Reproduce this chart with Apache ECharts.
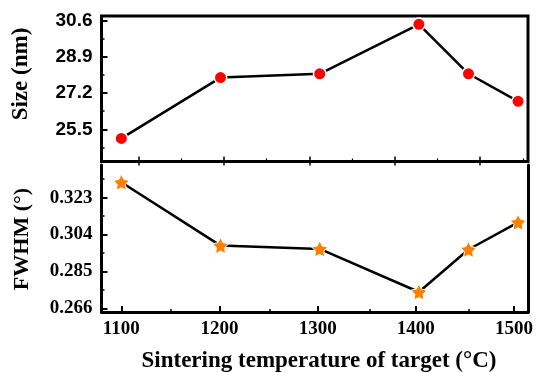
<!DOCTYPE html>
<html>
<head>
<meta charset="utf-8">
<script src="https://cdn.jsdelivr.net/npm/echarts@6/dist/echarts.min.js"></script>
<style>html,body{margin:0;padding:0;background:#fff}#c{width:536px;height:373px}</style>
</head>
<body>
<div id="c"></div>
<script>
// ---- data ----
const temps = [1100, 1200, 1300, 1400, 1450, 1500];
const sizeNm = [25.08, 27.92, 28.10, 30.41, 28.10, 26.81];
const fwhm = [0.3309, 0.2983, 0.2966, 0.2744, 0.2963, 0.3103];
// tick sets: [first, last, interval]
const xTicks = [1100, 1500, 100];
const xMinorTicks = [1150, 1450, 100];
const topXTicks = [1100, 1500, 100];
const topXMinorTicks = [1150, 1550, 100];
const sizeTicks = [25.5, 30.6, 1.7];
const sizeMinorTicks = [24.65, 29.75, 1.7];
const fwhmTicks = [0.266, 0.323, 0.019];
const fwhmMinorTicks = [0.2755, 0.3325, 0.019];
const xTitle = 'Sintering temperature of target (°C)';
const topTitle = 'Size (nm)';
const botTitle = 'FWHM (°)';

const serif = '"Liberation Serif", "Times New Roman", serif';
const sans = '"Liberation Sans", Arial, sans-serif';

function starPath(inner) {
  let d = '';
  for (let i = 0; i < 10; i++) {
    const r = i % 2 === 0 ? 50 : 50 * inner;
    const a = -Math.PI / 2 + i * Math.PI / 5;
    d += (i === 0 ? 'M' : 'L') + (50 + r * Math.cos(a)).toFixed(2) + ',' + (50 + r * Math.sin(a)).toFixed(2) + ' ';
  }
  return 'path://' + d + 'Z';
}

// panels
const P0 = {left: 101.5, top: 16, width: 426.5, height: 145.5};
const P1 = {left: 101.5, top: 165, width: 426.5, height: 147};
const X0 = [1080, 1510];          // data x range (both panels)
const XT = [1056.7, 1556.1];      // top panel tick scale
const Y0 = [24.0, 30.8];
const Y1 = [0.2641, 0.3398];

const grids = [], xAxes = [], yAxes = [];
const hidden = {type: 'value', show: false, splitLine: {show: false}};
function addGrid(g) { grids.push(g); return grids.length - 1; }

// data grids
const g0 = addGrid(Object.assign({show: true, borderColor: '#000', borderWidth: 3, backgroundColor: 'transparent'}, P0));
const g1 = addGrid(Object.assign({}, P1));
xAxes.push(Object.assign({}, hidden, {gridIndex: g0, min: X0[0], max: X0[1]}));
yAxes.push(Object.assign({}, hidden, {gridIndex: g0, min: Y0[0], max: Y0[1]}));
xAxes.push({type: 'value', gridIndex: g1, min: X0[0], max: X0[1], position: 'bottom', splitLine: {show: false},
  axisLine: {show: true, onZero: false, lineStyle: {color: '#000', width: 3}}, axisTick: {show: false}, axisLabel: {show: false}});
yAxes.push({type: 'value', gridIndex: g1, min: Y1[0], max: Y1[1], position: 'left', splitLine: {show: false},
  axisLine: {show: true, onZero: false, lineStyle: {color: '#000', width: 3}}, axisTick: {show: false}, axisLabel: {show: false}});
// right border of bottom panel
yAxes.push({type: 'value', gridIndex: g1, min: Y1[0], max: Y1[1], position: 'right', splitLine: {show: false},
  axisLine: {show: true, onZero: false, lineStyle: {color: '#000', width: 3}}, axisTick: {show: false}, axisLabel: {show: false}});

// tick grid for x direction
function xTickGrid(P, range, ticks, pos, len, w, label) {
  const s = P.width / (range[1] - range[0]);
  const gi = addGrid({left: P.left + (ticks[0] - range[0]) * s, width: (ticks[1] - ticks[0]) * s, top: P.top, height: P.height});
  xAxes.push({type: 'value', gridIndex: gi, min: ticks[0], max: ticks[1], interval: ticks[2], position: pos,
    splitLine: {show: false}, axisLine: {show: false},
    axisTick: {show: true, inside: true, length: len, lineStyle: {color: '#000', width: w}},
    axisLabel: label ? Object.assign({show: true}, label) : {show: false}});
  yAxes.push(Object.assign({}, hidden, {gridIndex: gi, min: 0, max: 1}));
}
function yTickGrid(P, range, ticks, len, w, label) {
  const s = P.height / (range[1] - range[0]);
  const gi = addGrid({left: P.left, width: P.width, top: P.top + (range[1] - ticks[1]) * s, height: (ticks[1] - ticks[0]) * s});
  yAxes.push({type: 'value', gridIndex: gi, min: ticks[0], max: ticks[1], interval: ticks[2], position: 'left',
    splitLine: {show: false}, axisLine: {show: false},
    axisTick: {show: true, inside: true, length: len, lineStyle: {color: '#000', width: w}},
    axisLabel: label ? Object.assign({show: true}, label) : {show: false}});
  xAxes.push(Object.assign({}, hidden, {gridIndex: gi, min: 0, max: 1}));
}

// top panel ticks
xTickGrid(P0, XT, topXTicks, 'bottom', 5, 1.5);
xTickGrid(P0, XT, topXMinorTicks, 'bottom', 3, 1.2);
xTickGrid(P0, XT, topXTicks, 'top', 4, 1.5);
yTickGrid(P0, Y0, sizeTicks, 6, 2, {margin: 9, color: '#000', fontFamily: sans, fontWeight: 'bold', fontSize: 19,
  formatter: v => v.toFixed(1)});
yTickGrid(P0, Y0, sizeMinorTicks, 3, 1.5);
// bottom panel ticks
xTickGrid(P1, X0, xTicks, 'bottom', 6, 2, {margin: 8, color: '#000', fontFamily: serif, fontWeight: 'bold', fontSize: 19,
  formatter: v => String(Math.round(v))});
xTickGrid(P1, X0, xMinorTicks, 'bottom', 3, 1.5);
yTickGrid(P1, Y1, fwhmTicks, 6, 2, {margin: 9, color: '#000', fontFamily: serif, fontWeight: 'bold', fontSize: 19,
  formatter: v => v.toFixed(3)});
yTickGrid(P1, Y1, fwhmMinorTicks, 3, 1.5);

const chart = echarts.init(document.getElementById('c'), null, {renderer: 'canvas'});
chart.setOption({
  backgroundColor: '#fff',
  animation: false,
  grid: grids,
  xAxis: xAxes,
  yAxis: yAxes,
  series: [
    {type: 'line', xAxisIndex: 0, yAxisIndex: 0,
      data: temps.map((t, i) => [t, sizeNm[i]]),
      symbol: 'circle', symbolSize: 12.5,
      lineStyle: {color: '#000', width: 2.5},
      itemStyle: {color: '#ff0000', borderColor: '#fff', borderWidth: 1.5}},
    {type: 'line', xAxisIndex: 1, yAxisIndex: 1,
      data: temps.map((t, i) => [t, fwhm[i]]),
      symbol: starPath(0.52), symbolSize: 16,
      lineStyle: {color: '#000', width: 2.5},
      itemStyle: {color: '#ff8000', borderColor: '#fff', borderWidth: 1}}
  ],
  graphic: [
    {type: 'text', x: 21, y: 74, rotation: Math.PI / 2,
      style: {text: topTitle, fill: '#000', font: 'bold 23px ' + serif, textAlign: 'center', textVerticalAlign: 'middle'}},
    {type: 'text', x: 22, y: 239, rotation: Math.PI / 2,
      style: {text: botTitle, fill: '#000', font: 'bold 22px ' + serif, textAlign: 'center', textVerticalAlign: 'middle'}},
    {type: 'text', x: 319, y: 361,
      style: {text: xTitle, fill: '#000', font: 'bold 23px ' + serif, textAlign: 'center', textVerticalAlign: 'middle'}}
  ]
});
</script>
</body>
</html>
